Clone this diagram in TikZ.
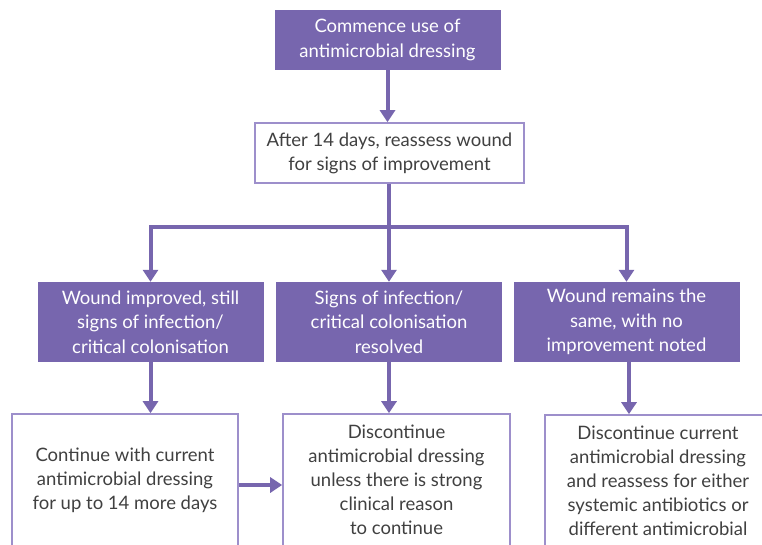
\documentclass[tikz,border=0pt]{standalone}
\usepackage{fontspec}
\setmainfont{Lato}
\usetikzlibrary{arrows.meta}
\definecolor{pfill}{HTML}{7766AE}
\definecolor{pline}{HTML}{9D8FCB}
\definecolor{ptext}{HTML}{404040}
\tikzset{
  x=1pt,y=-1pt,
  darkbox/.style={draw=none,fill=pfill,text=white,align=center,inner sep=0pt,
    minimum width=226pt,font=\fontsize{18.5}{24.5}\selectfont},
  lightbox/.style={draw=pline,line width=1.6pt,fill=white,text=ptext,align=center,inner sep=0pt,
    font=\fontsize{18.5}{24}\selectfont},
  conn/.style={draw=pfill,line width=4pt},
  arr/.style={conn,-{Triangle[width=15pt,length=12pt]}},
}
\begin{document}
\begin{tikzpicture}
\useasboundingbox (0,0) rectangle (762,544);
\clip (0,0) rectangle (762,544);
\node[darkbox,minimum height=60pt] (start) at (387.5,40) {Commence use of\\antimicrobial dressing};
\node[lightbox,minimum width=269pt,minimum height=60pt] (reassess) at (389.5,153) {After 14 days, reassess wound\\for signs of improvement};
\node[darkbox,minimum height=80pt] (pl) at (150.5,322) {Wound improved, still\\signs of infection/\\critical colonisation};
\node[darkbox,minimum height=80pt] (pm) at (389,322) {Signs of infection/\\critical colonisation\\resolved};
\node[darkbox,minimum height=80pt] (pr) at (626.5,322) {Wound remains the\\same, with no\\improvement noted};
\node[lightbox,minimum width=226pt,minimum height=132pt] (bl) at (125,480) {Continue with current\\antimicrobial dressing\\for up to 14 more days};
\node[lightbox,minimum width=227pt,minimum height=132pt] (bm) at (396.5,480) {Discontinue\\antimicrobial dressing\\unless there is strong\\clinical reason\\to continue};
\node[lightbox,minimum width=226pt,minimum height=132pt] (br) at (658,481) {Discontinue current\\antimicrobial dressing\\and reassess for either\\systemic antibiotics or\\different antimicrobial};
\coordinate (fork) at (389,227);
\draw[arr] (start.south) -- (start.south |- reassess.north);
\draw[arr] (reassess.south -| fork) -- (fork |- pm.north);
\draw[arr] ([xshift=2pt]fork) -| (pr.north);
\draw[arr] ([xshift=-2pt]fork) -| (pl.north);
\draw[arr] (pl.south) -- (pl.south |- bl.north);
\draw[arr] (pm.south) -- (pm.south |- bm.north);
\draw[arr] ([xshift=2.5pt]pr.south) -- ([xshift=2.5pt]pr.south |- br.north);
\draw[arr] (bl.east |- 0,485) -- (bm.west |- 0,485);
\end{tikzpicture}
\end{document}
